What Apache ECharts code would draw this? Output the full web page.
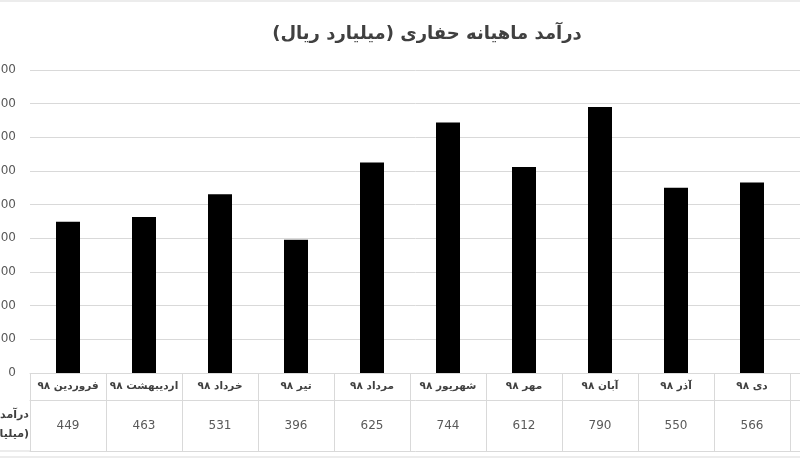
<!DOCTYPE html>
<html>
<head>
<meta charset="utf-8">
<script src="https://cdn.jsdelivr.net/npm/echarts@6/dist/echarts.min.js"></script>
<style>
html,body{margin:0;padding:0;background:#fff;}
#c{width:800px;height:458px;}
</style>
</head>
<body>
<div id="c"></div>
<script>
var titleText = 'درآمد ماهیانه حفاری (میلیارد ریال)';
var rowHeaderLine1 = 'درآمد';
var rowHeaderLine2 = '(میلیارد ریال)';
var months = ['فروردین ۹۸','اردیبهشت ۹۸','خرداد ۹۸','تیر ۹۸','مرداد ۹۸','شهریور ۹۸','مهر ۹۸','آبان ۹۸','آذر ۹۸','دی ۹۸'];
var revenue = [449, 463, 531, 396, 625, 744, 612, 790, 550, 566];
var yTicks = [0, 100, 200, 300, 400, 500, 600, 700, 800, 900];

var RLM = '\u200F';
var axisCats = months.concat(['']);
var FONT = 'DejaVu Sans';
var GRID_COLOR = '#d9d9d9';

var chart = echarts.init(document.getElementById('c'), null, {renderer: 'canvas'});
chart.setOption({
  animation: false,
  backgroundColor: '#fff',
  title: {
    text: titleText + RLM,
    left: 422,
    top: 20,
    textAlign: 'center',
    textStyle: {fontFamily: FONT, fontSize: 18, fontWeight: 'bold', color: '#404040'}
  },
  grid: {left: 30, top: 70, width: 836, height: 303, containLabel: false, outerBoundsMode: 'none'},
  xAxis: [{
    type: 'category',
    data: axisCats,
    boundaryGap: true,
    axisLine: {show: true, lineStyle: {color: GRID_COLOR, width: 1}},
    axisTick: {show: true, length: 78, lineStyle: {color: GRID_COLOR, width: 1}},
    axisLabel: {
      interval: 0,
      margin: 0,
      hideOverlap: false,
      formatter: function (v, i) {
        if (!v) return '';
        return '{m|' + v + '}\n{v|' + revenue[i] + '}';
      },
      rich: {
        m: {fontFamily: FONT, fontSize: 10.5, fontWeight: 'bold', color: '#404040', lineHeight: 27},
        v: {fontFamily: FONT, fontSize: 12, color: '#595959', lineHeight: 51}
      }
    }
  }, {
    type: 'category',
    data: axisCats,
    position: 'bottom',
    offset: 27,
    axisLine: {show: true, lineStyle: {color: GRID_COLOR, width: 1}},
    axisTick: {show: false},
    axisLabel: {show: false}
  }, {
    type: 'category',
    data: axisCats,
    position: 'bottom',
    offset: 78,
    axisLine: {show: true, lineStyle: {color: GRID_COLOR, width: 1}},
    axisTick: {show: false},
    axisLabel: {show: false}
  }],
  yAxis: {
    type: 'value',
    min: yTicks[0],
    max: yTicks[yTicks.length - 1],
    interval: yTicks[1] - yTicks[0],
    axisLine: {show: false},
    axisTick: {show: false},
    splitLine: {lineStyle: {color: GRID_COLOR, width: 1}},
    axisLabel: {margin: 14, fontFamily: FONT, fontSize: 12, color: '#595959'}
  },
  graphic: [
    {type: 'rect', shape: {x: -5, y: 1, width: 810, height: 456}, style: {fill: 'none', stroke: GRID_COLOR, lineWidth: 1}, silent: true},
    {type: 'line', shape: {x1: 0, y1: 451, x2: 30, y2: 451}, style: {stroke: GRID_COLOR, lineWidth: 1}, silent: true},
    {type: 'text', x: 29, y: 415, style: {text: rowHeaderLine1, fontFamily: FONT, fontSize: 11, fontWeight: 'bold', fill: '#404040', align: 'right', verticalAlign: 'middle'}, silent: true},
    {type: 'text', x: 29, y: 434, style: {text: rowHeaderLine2 + RLM, fontFamily: FONT, fontSize: 11, fontWeight: 'bold', fill: '#404040', align: 'right', verticalAlign: 'middle'}, silent: true}
  ],
  series: [{
    type: 'bar',
    data: revenue,
    barWidth: 24,
    itemStyle: {color: '#000000'},
    xAxisIndex: 0
  }]
});
</script>
</body>
</html>
